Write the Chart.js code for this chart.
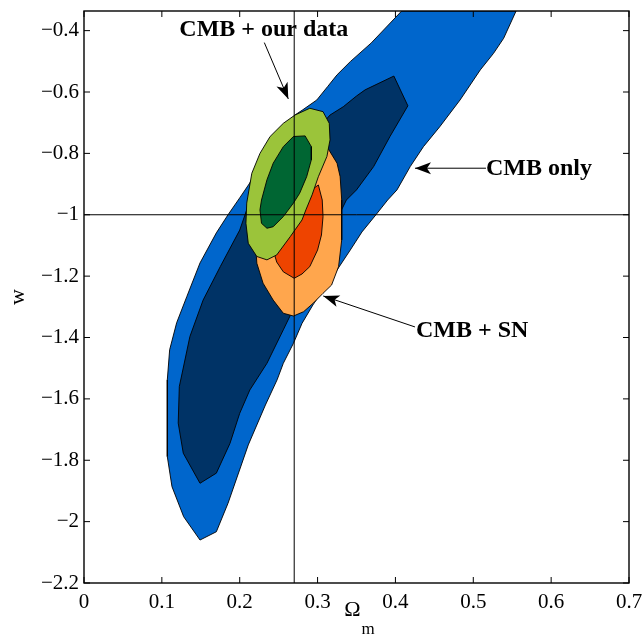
<!DOCTYPE html>
<html>
<head>
<meta charset="utf-8">
<script src="https://cdn.jsdelivr.net/npm/chart.js@4.4.0/dist/chart.umd.min.js"></script>
<style>
  html, body { margin: 0; padding: 0; background: #fff; }
  #wrap { width: 644px; height: 639px; }
</style>
</head>
<body>
<div id="wrap"><canvas id="contourChart" width="644" height="639"></canvas></div>
<script>
// axis ranges and ticks
const xTicks = [0, 0.1, 0.2, 0.3, 0.4, 0.5, 0.6, 0.7];
const yTicks = [-2.2, -2, -1.8, -1.6, -1.4, -1.2, -1, -0.8, -0.6, -0.4];
const xRange = [0, 0.7];
const yRange = [-2.2, -0.336];
const refOmega = 0.27;
const refW = -1;

// contours, [Omega_m, w]
const cmbOuter = [[0.408,-0.336],[0.369,-0.44],[0.342,-0.501],[0.325,-0.544],[0.313,-0.582],[0.299,-0.626],[0.281,-0.658],[0.271,-0.675],[0.239,-0.79],[0.212,-0.9],[0.2,-0.945],[0.185,-1.0],[0.17,-1.059],[0.149,-1.157],[0.132,-1.267],[0.119,-1.352],[0.11,-1.44],[0.107,-1.538],[0.107,-1.788],[0.113,-1.886],[0.128,-1.984],[0.149,-2.06],[0.17,-2.033],[0.185,-1.94],[0.211,-1.75],[0.233,-1.62],[0.248,-1.538],[0.256,-1.484],[0.269,-1.419],[0.28,-1.354],[0.294,-1.294],[0.307,-1.245],[0.325,-1.18],[0.342,-1.115],[0.357,-1.056],[0.375,-1.0],[0.39,-0.952],[0.402,-0.919],[0.419,-0.843],[0.436,-0.778],[0.457,-0.713],[0.483,-0.626],[0.509,-0.528],[0.526,-0.474],[0.539,-0.425],[0.555,-0.336]];
const cmbInner = [[0.398,-0.548],[0.416,-0.645],[0.393,-0.745],[0.372,-0.843],[0.35,-0.919],[0.337,-0.952],[0.296,-1.165],[0.256,-1.375],[0.235,-1.484],[0.213,-1.571],[0.2,-1.647],[0.1875,-1.745],[0.17,-1.842],[0.149,-1.875],[0.1275,-1.777],[0.121,-1.679],[0.1224,-1.56],[0.136,-1.397],[0.153,-1.278],[0.175,-1.169],[0.2,-1.05],[0.209,-0.984],[0.316,-0.675],[0.333,-0.648],[0.35,-0.613],[0.361,-0.593]];
const ourOuter = [[0.271,-0.675],[0.29,-0.653],[0.307,-0.664],[0.315,-0.702],[0.316,-0.756],[0.312,-0.81],[0.301,-0.876],[0.293,-0.935],[0.285,-0.984],[0.28,-1.017],[0.265,-1.071],[0.2475,-1.131],[0.235,-1.147],[0.222,-1.136],[0.211,-1.093],[0.208,-1.028],[0.209,-0.962],[0.2155,-0.865],[0.226,-0.8],[0.239,-0.745],[0.256,-0.702]];
const ourInner = [[0.284,-0.743],[0.292,-0.778],[0.292,-0.821],[0.286,-0.876],[0.277,-0.93],[0.269,-0.962],[0.256,-1.006],[0.243,-1.039],[0.235,-1.044],[0.228,-1.028],[0.226,-0.984],[0.228,-0.952],[0.235,-0.886],[0.243,-0.832],[0.256,-0.778],[0.269,-0.745]];
const snOuter = [[0.297,-0.74],[0.312,-0.778],[0.325,-0.832],[0.329,-0.876],[0.331,-0.952],[0.331,-1.082],[0.327,-1.169],[0.318,-1.229],[0.307,-1.256],[0.2945,-1.288],[0.282,-1.316],[0.269,-1.33],[0.256,-1.321],[0.243,-1.278],[0.23,-1.223],[0.222,-1.158],[0.22,-1.082],[0.233,-0.952],[0.265,-0.79]];
const snInner = [[0.301,-0.903],[0.306,-0.952],[0.307,-1.006],[0.305,-1.066],[0.3,-1.115],[0.29,-1.169],[0.28,-1.193],[0.27,-1.207],[0.256,-1.186],[0.2475,-1.154],[0.243,-1.115],[0.245,-1.066],[0.265,-0.968]];

// annotations: text anchor and arrow (from -> tip), data units
const notes = [
  { text: 'CMB + our data', x: 0.231, y: -0.417, align: 'center', from: [0.2316, -0.439], tip: [0.2624, -0.6225] },
  { text: 'CMB only', x: 0.5163, y: -0.872, align: 'left', from: [0.5163, -0.8483], tip: [0.4251, -0.8483] },
  { text: 'CMB + SN', x: 0.4264, y: -1.398, align: 'left', from: [0.4251, -1.3656], tip: [0.3073, -1.2646] }
];

const serif = "'Liberation Serif', 'Times New Roman', serif";

function toPts(arr) {
  return arr.concat([arr[0]]).map(p => ({ x: p[0], y: p[1] }));
}

function contour(pts, color, order) {
  return {
    data: toPts(pts),
    backgroundColor: color,
    borderColor: '#000',
    borderWidth: 0.9,
    fill: 'shape',
    pointRadius: 0,
    pointHoverRadius: 0,
    tension: 0,
    order: order
  };
}

function minus(v) {
  const r = Math.round(v * 10) / 10;
  return (r < 0 ? '\u2212' : '') + String(Math.abs(r));
}

function arrowHead(ctx, x0, y0, x1, y1) {
  const ang = Math.atan2(y1 - y0, x1 - x0);
  ctx.save();
  ctx.translate(x1, y1);
  ctx.rotate(ang);
  ctx.beginPath();
  ctx.moveTo(0, 0);
  ctx.lineTo(-16, -6);
  ctx.lineTo(-12, 0);
  ctx.lineTo(-16, 6);
  ctx.closePath();
  ctx.fill();
  ctx.restore();
}

const decor = {
  id: 'decor',
  afterDatasetsDraw(chart) {
    const { ctx, chartArea: a, scales: { x, y } } = chart;
    ctx.save();
    ctx.strokeStyle = '#000';
    ctx.fillStyle = '#000';

    // reference lines
    ctx.lineWidth = 1;
    const rx = x.getPixelForValue(refOmega);
    const ry = y.getPixelForValue(refW);
    ctx.beginPath();
    ctx.moveTo(rx, a.top); ctx.lineTo(rx, a.bottom);
    ctx.moveTo(a.left, ry); ctx.lineTo(a.right, ry);
    ctx.stroke();

    // frame
    ctx.lineWidth = 1.4;
    ctx.strokeRect(a.left, a.top, a.right - a.left, a.bottom - a.top);

    // inward ticks on all four sides
    ctx.lineWidth = 1;
    ctx.beginPath();
    xTicks.forEach(v => {
      const px = x.getPixelForValue(v);
      ctx.moveTo(px, a.bottom); ctx.lineTo(px, a.bottom - 6);
      ctx.moveTo(px, a.top); ctx.lineTo(px, a.top + 6);
    });
    yTicks.forEach(v => {
      const py = y.getPixelForValue(v);
      ctx.moveTo(a.left, py); ctx.lineTo(a.left + 6, py);
      ctx.moveTo(a.right, py); ctx.lineTo(a.right - 6, py);
    });
    ctx.stroke();

    // annotations
    ctx.font = 'bold 24px ' + serif;
    ctx.textBaseline = 'alphabetic';
    notes.forEach(n => {
      const fx = x.getPixelForValue(n.from[0]), fy = y.getPixelForValue(n.from[1]);
      const tx = x.getPixelForValue(n.tip[0]), ty = y.getPixelForValue(n.tip[1]);
      ctx.beginPath();
      ctx.moveTo(fx, fy); ctx.lineTo(tx, ty);
      ctx.stroke();
      arrowHead(ctx, fx, fy, tx, ty);
      ctx.textAlign = n.align;
      ctx.fillText(n.text, x.getPixelForValue(n.x), y.getPixelForValue(n.y));
    });

    // axis titles
    const midX = (a.left + a.right) / 2;
    ctx.font = '22px ' + serif;
    ctx.textAlign = 'right';
    ctx.fillText('\u03A9', midX + 4, 616);
    ctx.font = '17px ' + serif;
    ctx.textAlign = 'left';
    ctx.fillText('m', midX + 5, 634);

    ctx.save();
    ctx.translate(18, (a.top + a.bottom) / 2);
    ctx.rotate(-Math.PI / 2);
    ctx.font = '22px ' + serif;
    ctx.textAlign = 'center';
    ctx.textBaseline = 'middle';
    ctx.fillText('w', 0, 0);
    ctx.restore();

    ctx.restore();
  }
};

const ctx = document.getElementById('contourChart').getContext('2d');
const contourChart = new Chart(ctx, {
  type: 'line',
  data: {
    datasets: [
      contour(cmbOuter, '#0066CC', 6),
      contour(cmbInner, '#003366', 5),
      contour(snOuter, '#FFA64D', 4),
      contour(snInner, '#EE4400', 3),
      contour(ourOuter, '#9BC43A', 2),
      contour(ourInner, '#006633', 1)
    ]
  },
  options: {
    responsive: false,
    animation: false,
    devicePixelRatio: 1,
    layout: { padding: { top: 11, right: 15, left: 0, bottom: 0 } },
    plugins: { legend: { display: false }, tooltip: { enabled: false } },
    events: [],
    scales: {
      x: {
        type: 'linear',
        min: xRange[0],
        max: xRange[1],
        grid: { display: false, drawTicks: false },
        border: { display: false },
        afterBuildTicks: s => { s.ticks = xTicks.map(v => ({ value: v })); },
        afterFit: s => { s.height = 56; s.paddingLeft = 0; s.paddingRight = 0; },
        ticks: {
          padding: 7,
          color: '#000',
          maxRotation: 0,
          autoSkip: false,
          font: { family: serif, size: 21 },
          callback: v => minus(v)
        }
      },
      y: {
        type: 'linear',
        min: yRange[0],
        max: yRange[1],
        grid: { display: false, drawTicks: false },
        border: { display: false },
        afterBuildTicks: s => { s.ticks = yTicks.map(v => ({ value: v })); },
        afterFit: s => { s.width = 84; s.paddingTop = 0; s.paddingBottom = 0; },
        ticks: {
          padding: 5,
          color: '#000',
          autoSkip: false,
          font: { family: serif, size: 21 },
          callback: v => minus(v)
        }
      }
    }
  },
  plugins: [decor]
});
</script>
</body>
</html>
